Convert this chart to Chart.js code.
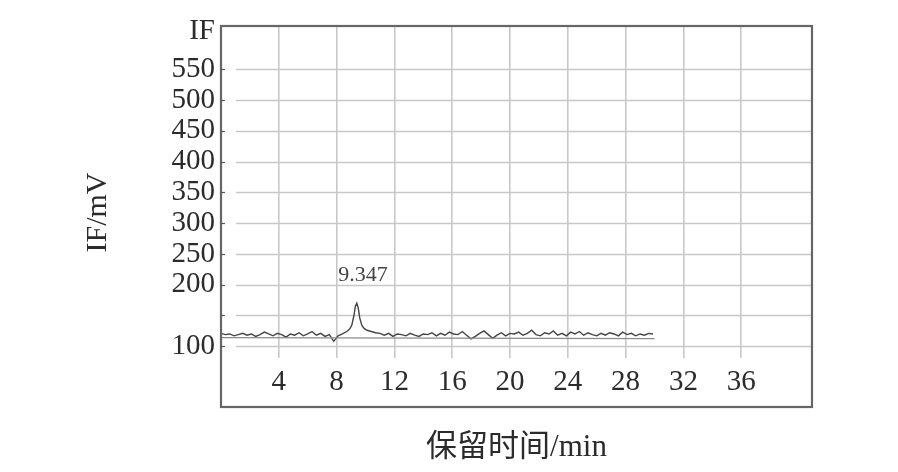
<!DOCTYPE html>
<html>
<head>
<meta charset="utf-8">
<script src="https://cdn.jsdelivr.net/npm/chart.js@4.4.4/dist/chart.umd.min.js"></script>
<style>
  html, body { margin: 0; padding: 0; background: #fff; }
  #wrap { position: relative; width: 898px; height: 472px; }
</style>
</head>
<body>
<div id="wrap"><canvas id="chrom"></canvas></div>
<script>
// retention time (min) and fluorescence signal (mV)
const retentionTimes = [
  0, 0.3, 0.6, 0.9, 1.2, 1.5, 1.8, 2.1, 2.4, 2.7, 3.0, 3.3, 3.6, 3.9, 4.2, 4.5, 4.8, 5.1, 5.4, 5.7,
  6.0, 6.3, 6.6, 6.9, 7.2, 7.5, 7.8, 8.1,
  8.4, 8.7, 8.9, 9.05, 9.2, 9.3, 9.4, 9.5, 9.6, 9.75, 9.9, 10.1, 10.4, 10.7, 11.0,
  11.3, 11.6, 11.9, 12.2, 12.5, 12.8, 13.1, 13.4, 13.7, 14.0, 14.3, 14.6, 14.9, 15.2, 15.5, 15.8,
  16.1, 16.4, 16.7, 17.0, 17.3, 17.6, 17.9, 18.2, 18.5, 18.8, 19.1, 19.4, 19.7, 20.0, 20.3, 20.6,
  20.9, 21.2, 21.5, 21.8, 22.1, 22.4, 22.7, 23.0, 23.3, 23.6, 23.9, 24.2, 24.5, 24.8, 25.1, 25.4,
  25.7, 26.0, 26.3, 26.6, 26.9, 27.2, 27.5, 27.8, 28.1, 28.4, 28.7, 29.0, 29.3, 29.6, 29.9
];
const signalMV = [
  121, 119, 120, 117, 119, 121, 118, 120, 116, 119, 123, 120, 117, 121, 119, 115, 120, 118, 122, 117,
  120, 124, 118, 121, 116, 119, 108, 117,
  120, 124, 128, 134, 150, 165, 170, 162, 146, 134, 129, 126, 124, 122, 121,
  118, 121, 116, 120, 119, 117, 121, 118, 116, 120, 119, 122, 117, 121, 118, 123,
  120, 119, 124, 118, 112, 116, 121, 125, 119, 113, 118, 122, 117, 121, 120, 123,
  118, 121, 126, 119, 117, 122, 120, 125, 118, 121, 117, 123, 120, 124, 118, 122,
  119, 117, 121, 118, 122, 120, 117, 123, 119, 121, 117, 120, 118, 121, 120
];
// integration baseline drawn under the trace
const baselineTimes = [0, 30.0];
const baselineMV = [114, 112.5];

const peakTime = 9.347;
const peakValue = 170;
const peakLabel = '9.347';

const xTicks = [4, 8, 12, 16, 20, 24, 28, 32, 36];
const yGridValues = [100, 150, 200, 250, 300, 350, 400, 450, 500, 550];
const yLabelValues = [100, 200, 250, 300, 350, 400, 450, 500, 550];
const yUnitTickValue = 612; // where the "IF" caption sits on the axis
const yUnitLabel = 'IF';

const xTitle = '保留时间/min';
const yTitle = 'IF/mV';

const serif = "'Liberation Serif', 'Noto Sans CJK SC', serif";
const textColor = '#2b2b2b';

const toPoints = (xs, ys) => xs.map((t, i) => ({ x: t, y: ys[i] }));

const chromPlugin = {
  id: 'chromDecor',
  beforeDatasetsDraw(chart) {
    const { ctx, chartArea: a, scales: { y } } = chart;
    ctx.save();
    // horizontal grid lines start a little right of the frame
    ctx.strokeStyle = '#c8c8c8';
    ctx.lineWidth = 1.6;
    const gx = a.left + 15;
    yGridValues.forEach(v => {
      const py = Math.round(y.getPixelForValue(v)) + 0.5;
      ctx.beginPath();
      ctx.moveTo(gx, py);
      ctx.lineTo(a.right, py);
      ctx.stroke();
    });
    ctx.restore();
  },
  afterDraw(chart) {
    const { ctx, chartArea: a, scales: { x, y } } = chart;
    ctx.save();
    // frame (extends below the data area to enclose the time labels)
    const fb = a.bottom + 49;
    ctx.strokeStyle = '#666';
    ctx.lineWidth = 2.2;
    ctx.strokeRect(a.left, a.top, a.right - a.left, fb - a.top);
    // small inner ticks on the left frame
    ctx.lineWidth = 1.2;
    ctx.strokeStyle = '#555';
    yGridValues.forEach(v => {
      const py = Math.round(y.getPixelForValue(v)) + 0.5;
      ctx.beginPath();
      ctx.moveTo(a.left, py);
      ctx.lineTo(a.left + 4, py);
      ctx.stroke();
    });
    // y axis title, centred on the whole frame
    ctx.fillStyle = textColor;
    ctx.font = "30px " + serif;
    ctx.textAlign = 'center';
    ctx.textBaseline = 'middle';
    ctx.save();
    ctx.translate(98, (a.top + fb) / 2 - 4);
    ctx.rotate(-Math.PI / 2);
    ctx.fillText(yTitle, 0, 0);
    ctx.restore();
    // peak annotation
    ctx.fillStyle = '#444';
    ctx.font = "22px " + serif;
    ctx.fillText(peakLabel, x.getPixelForValue(peakTime) + 7, y.getPixelForValue(peakValue) - 28);
    ctx.restore();
  }
};

new Chart(document.getElementById('chrom').getContext('2d'), {
  type: 'line',
  data: {
    datasets: [
      {
        data: toPoints(baselineTimes, baselineMV),
        borderColor: '#8a8a8a',
        borderWidth: 1.2,
        pointRadius: 0,
        tension: 0
      },
      {
        data: toPoints(retentionTimes, signalMV),
        borderColor: '#444',
        borderWidth: 1.4,
        pointRadius: 0,
        tension: 0
      }
    ]
  },
  options: {
    responsive: true,
    maintainAspectRatio: false,
    animation: false,
    layout: { padding: { top: 26, right: 86, bottom: 0, left: 0 } },
    plugins: { legend: { display: false }, tooltip: { enabled: false } },
    scales: {
      x: {
        type: 'linear',
        min: 0,
        max: 40.9,
        afterBuildTicks: s => { s.ticks = xTicks.map(v => ({ value: v })); },
        afterFit: s => { s.height = 114; },
        grid: { color: '#c8c8c8', lineWidth: 1.6, drawTicks: false },
        border: { display: false },
        ticks: {
          color: textColor,
          font: { family: serif, size: 29 },
          padding: 7,
          maxRotation: 0,
          autoSkip: false
        },
        title: {
          display: true,
          text: xTitle,
          color: textColor,
          font: { family: serif, size: 31 },
          padding: { top: 0, bottom: 6 }
        }
      },
      y: {
        type: 'linear',
        min: 81,
        max: 620,
        afterBuildTicks: s => {
          s.ticks = yLabelValues.concat([yUnitTickValue]).map(v => ({ value: v }));
        },
        afterFit: s => { s.width = 221; },
        grid: { display: false, drawTicks: false },
        border: { display: false },
        ticks: {
          color: textColor,
          font: { family: serif, size: 29 },
          padding: 6,
          autoSkip: false,
          callback: v => (v === yUnitTickValue ? yUnitLabel : String(v))
        },
        title: { display: false }
      }
    }
  },
  plugins: [chromPlugin]
});
</script>
</body>
</html>
